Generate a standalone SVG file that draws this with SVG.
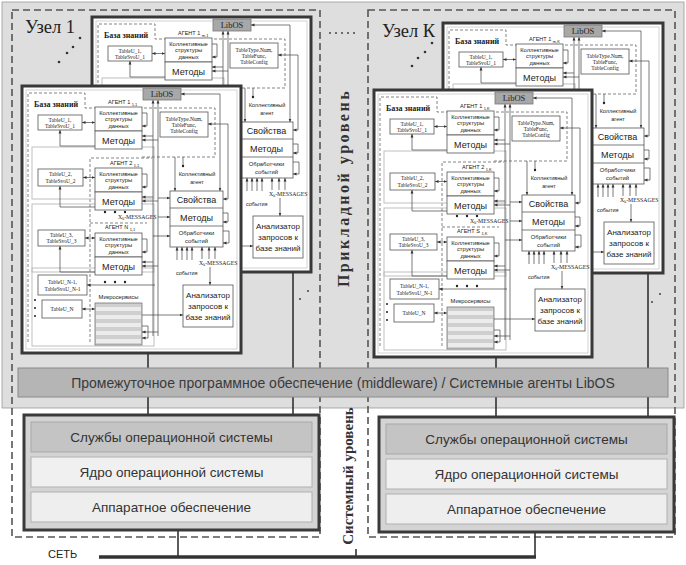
<svg xmlns="http://www.w3.org/2000/svg" width="686" height="565" viewBox="0 0 686 565">
<style>
.bx{fill:#fff;stroke:#555;stroke-width:.8}
.gr{fill:none;stroke:#b8b8b8;stroke-width:.9}
.ds{fill:none;stroke:#666;stroke-width:.8;stroke-dasharray:3 2}
.ln{fill:none;stroke:#444;stroke-width:.7}
.fr{fill:#fff;stroke:#383838;stroke-width:3}
.fi{fill:none;stroke:#c8c8c8;stroke-width:.8}
.nd{fill:none;stroke:#555;stroke-width:1.6;stroke-dasharray:7 4}
.tb{font-family:"Liberation Serif",serif;font-size:5.5px;fill:#222;text-anchor:middle}
.c6{font-family:"Liberation Sans",Arial,sans-serif;font-size:5.8px;fill:#222;text-anchor:middle}
.m9{font-family:"Liberation Sans",Arial,sans-serif;font-size:9px;fill:#222;text-anchor:middle}
.an{font-family:"Liberation Sans",Arial,sans-serif;font-size:8px;fill:#222;text-anchor:middle}
.kb{font-family:"Liberation Serif",serif;font-size:8px;font-weight:bold;fill:#222}
.ag{font-family:"Liberation Sans",Arial,sans-serif;font-size:5.5px;fill:#222}
.ms{font-family:"Liberation Serif",serif;font-size:5.8px;fill:#222}
.ev{font-family:"Liberation Sans",Arial,sans-serif;font-size:5.5px;fill:#222}
.lb{font-family:"Liberation Serif",serif;font-size:8.5px;fill:#222;text-anchor:middle}
.nl{font-family:"Liberation Serif",serif;font-size:18.5px;fill:#222}
.lv{font-family:"Liberation Serif",serif;font-weight:bold;fill:#333;text-anchor:middle}
.os{font-family:"Liberation Sans",Arial,sans-serif;font-size:13.5px;fill:#333;text-anchor:middle}
.mw{font-family:"Liberation Sans",Arial,sans-serif;font-size:14px;fill:#3a3a3a;text-anchor:middle}
.cn{fill:none;stroke:#333;stroke-width:1.6}
</style>
<defs>
<marker id="ar" viewBox="0 0 6 6" refX="6" refY="3" markerWidth="3.5" markerHeight="3.5" markerUnits="userSpaceOnUse" orient="auto-start-reverse"><path d="M0,0.5L6,3L0,5.5z" fill="#333"/></marker>
<g id="pc">
<path class="ds" d="M6,256 V7 H63 V22 H193 V71 H120"/>
<path class="ds" d="M68,256 V72 H130"/>
<path class="ds" d="M68,137 H125"/>
<rect class="gr" x="10" y="61" width="122" height="52"/>
<rect class="gr" x="10" y="118" width="122" height="68"/>
<rect class="gr" x="10" y="182" width="122" height="78"/>
<text class="kb" x="12" y="21">База знаний</text>
<path class="ln" d="M131,14 V250" marker-start="url(#ar)"/>
<path class="ln" d="M136,14 V250" marker-start="url(#ar)"/>
<rect x="121" y="2" width="38" height="12" fill="#a8a8a8" stroke="#777" stroke-width=".8"/>
<text class="lb" x="140" y="11.2">LibOS</text>
<rect class="bx" x="16" y="29" width="44" height="15"/>
<text class="tb" x="38" y="35.5">TableU_1,</text><text class="tb" x="38" y="41.5">TableSvoU_1</text>
<path class="ln" d="M60,36.5 H73" marker-start="url(#ar)" marker-end="url(#ar)"/>
<rect class="bx" x="73" y="21" width="47" height="24"/>
<text class="c6" x="96.5" y="28.5">Коллективные</text><text class="c6" x="96.5" y="35">структуры</text><text class="c6" x="96.5" y="41.5">данных</text>
<rect class="bx" x="73" y="45" width="47" height="18"/>
<text class="m9" x="96.5" y="57.5">Методы</text>
<path class="ln" d="M73,60 H38 V44" marker-end="url(#ar)"/>
<path class="ln" d="M120,27 H125 V40 H120" marker-end="url(#ar)"/>
<path class="ln" d="M131,50 H120" marker-end="url(#ar)"/>
<path class="ln" d="M136,54 H120" marker-end="url(#ar)"/>
<rect class="bx" x="16" y="83" width="45" height="17"/>
<text class="tb" x="38.5" y="90">TableU_2,</text><text class="tb" x="38.5" y="97">TableSvoU_2</text>
<path class="ln" d="M61,91.5 H73" marker-start="url(#ar)" marker-end="url(#ar)"/>
<rect class="bx" x="73" y="82" width="47" height="24"/>
<text class="c6" x="96.5" y="89.5">Коллективные</text><text class="c6" x="96.5" y="96">структуры</text><text class="c6" x="96.5" y="102.5">данных</text>
<rect class="bx" x="73" y="106" width="47" height="18"/>
<text class="m9" x="96.5" y="118.5">Методы</text>
<path class="ln" d="M73,121 H38 V100" marker-end="url(#ar)"/>
<path class="ln" d="M120,88 H125 V101 H120" marker-end="url(#ar)"/>
<path class="ln" d="M131,111 H120" marker-end="url(#ar)"/>
<path class="ln" d="M136,115 H120" marker-end="url(#ar)"/>
<circle cx="83" cy="126" r="1.2" fill="#222"/><circle cx="93" cy="126" r="1.2" fill="#222"/><circle cx="103" cy="126" r="1.2" fill="#222"/>
<text class="ms" x="96" y="133">X<tspan font-size="4px" dy="1">k</tspan><tspan dy="-1">-MESSAGES</tspan></text>
<rect class="bx" x="16" y="144" width="47" height="16"/>
<text class="tb" x="39.5" y="150.5">TableU_3,</text><text class="tb" x="39.5" y="157">TableSvoU_3</text>
<path class="ln" d="M63,152 H73" marker-start="url(#ar)" marker-end="url(#ar)"/>
<rect class="bx" x="73" y="147" width="47" height="24"/>
<text class="c6" x="96.5" y="154.5">Коллективные</text><text class="c6" x="96.5" y="161">структуры</text><text class="c6" x="96.5" y="167.5">данных</text>
<rect class="bx" x="73" y="171" width="47" height="18"/>
<text class="m9" x="96.5" y="183.5">Методы</text>
<path class="ln" d="M73,186 H38 V160" marker-end="url(#ar)"/>
<path class="ln" d="M120,153 H125 V166 H120" marker-end="url(#ar)"/>
<path class="ln" d="M131,176 H120" marker-end="url(#ar)"/>
<path class="ln" d="M136,180 H120" marker-end="url(#ar)"/>
<circle cx="83" cy="196" r="1.2" fill="#222"/><circle cx="93" cy="196" r="1.2" fill="#222"/><circle cx="103" cy="196" r="1.2" fill="#222"/>
<rect class="bx" x="16" y="189" width="49" height="20"/>
<text class="tb" x="40.5" y="197.5">TableU_N-1,</text><text class="tb" x="40.5" y="204.5">TableSvoU_N-1</text>
<path class="ln" d="M65,199 H133" marker-start="url(#ar)"/>
<circle cx="13" cy="214" r="1" fill="#222"/><circle cx="13" cy="222" r="1" fill="#222"/><circle cx="13" cy="230" r="1" fill="#222"/>
<rect class="bx" x="20" y="214" width="40" height="18"/>
<text class="tb" x="40" y="225">TableU_N</text>
<path class="ln" d="M60,223 H73" marker-start="url(#ar)" marker-end="url(#ar)"/>
<text class="c6" x="96.5" y="213">Микросервисы</text>
<rect x="73" y="217" width="47" height="42" fill="#cfcfcf" stroke="#777" stroke-width=".8"/>
<rect x="74" y="221" width="45" height="4" fill="#ececec"/><rect x="74" y="229" width="45" height="4" fill="#ececec"/><rect x="74" y="237" width="45" height="4" fill="#ececec"/><rect x="74" y="245" width="45" height="4" fill="#ececec"/><rect x="74" y="253" width="45" height="4" fill="#ececec"/>
<path class="ln" d="M120,240 H126 V252 H120" marker-end="url(#ar)"/>
<path class="ln" d="M136,246 H120" marker-end="url(#ar)"/>
<path class="ln" d="M120,229 H161" marker-end="url(#ar)"/>
<rect class="bx" x="138" y="26" width="48" height="25"/>
<text class="tb" x="162" y="34.5">TableType.Num,</text><text class="tb" x="162" y="40.5">TableFunc,</text><text class="tb" x="162" y="46.5">TableConfig</text>
<path class="ln" d="M159,8 H198 V105" marker-start="url(#ar)" marker-end="url(#ar)"/>
<path class="ln" d="M186,38 H206 V113 H201" marker-start="url(#ar)" marker-end="url(#ar)"/>
<path class="ln" d="M153,71 V105" marker-end="url(#ar)"/>
<path class="ln" d="M161,80 V71"/><circle cx="161" cy="80" r="1.2" fill="#222"/>
<text class="ev" x="175" y="90" text-anchor="middle">Коллективный</text><text class="ev" x="175" y="98" text-anchor="middle">агент</text>
<rect class="bx" x="148" y="105" width="53" height="56"/>
<path class="ln" d="M148,122 H201 M148,140 H201"/>
<text class="m9" x="174.5" y="117" font-size="8.5px">Свойства</text>
<text class="m9" x="174.5" y="135">Методы</text>
<text class="c6" x="174.5" y="149">Обработчики</text><text class="c6" x="174.5" y="156.5">событий</text>
<path class="ln" d="M136,112 H148" marker-end="url(#ar)"/>
<path class="ln" d="M136,131 H148" marker-end="url(#ar)"/>
<path class="ln" d="M131,150 H148" marker-end="url(#ar)"/>
<path class="ln" d="M201,127 H206 V136 H201" marker-end="url(#ar)"/>
<path class="ln" d="M201,145 H207 V157 H201" marker-end="url(#ar)"/>
<path class="ln" d="M155,174 V161" marker-end="url(#ar)"/><path class="ln" d="M160,174 V161" marker-end="url(#ar)"/><path class="ln" d="M165,174 V161" marker-end="url(#ar)"/><path class="ln" d="M170,174 V161" marker-end="url(#ar)"/><path class="ln" d="M180,173 V161" marker-end="url(#ar)"/><path class="ln" d="M187,173 V161" marker-end="url(#ar)"/><path class="ln" d="M193,173 V161" marker-end="url(#ar)"/>
<text class="ms" x="177" y="179">X<tspan font-size="4px" dy="1">k</tspan><tspan dy="-1">-MESSAGES</tspan></text>
<text class="ev" x="154" y="189">события</text>
<path class="ln" d="M188,181 V199" marker-end="url(#ar)"/>
<rect class="bx" x="161" y="199" width="50" height="42"/>
<text class="an" x="186" y="212">Анализатор</text><text class="an" x="186" y="223">запросов к</text><text class="an" x="186" y="234">базе знаний</text>
</g>
</defs>
<rect x="0" y="0" width="686" height="565" fill="#fff"/>
<rect x="2" y="2" width="682" height="406" fill="#dedede" stroke="#999" stroke-width=".8"/>
<g id="node-1">
<rect class="nd" x="12" y="10" width="308" height="527"/>
<text class="nl" x="25" y="33">Узел 1</text>
<circle cx="80" cy="38" r="1.3" fill="#333"/><circle cx="73" cy="47" r="1.3" fill="#333"/><circle cx="67" cy="53" r="1.3" fill="#333"/><circle cx="59" cy="62" r="1.3" fill="#333"/>
<circle cx="300" cy="299" r="1" fill="#444"/><circle cx="308" cy="291" r="1" fill="#444"/>
<g id="node-1-agent-m" transform="translate(92,17)">
<rect class="fr" x="0" y="0" width="219" height="255"/>
<rect class="fi" x="4" y="4" width="211" height="247"/>
<use href="#pc"/>
<text class="ag" x="86" y="18">АГЕНТ 1 <tspan font-size="4px" dy="1.5">m,1</tspan></text>
</g>
<g id="node-1-agent-1" transform="translate(22,86)">
<rect class="fr" x="0" y="0" width="219" height="267"/>
<rect class="fi" x="4" y="4" width="211" height="259"/>
<use href="#pc"/>
<text class="ag" x="86" y="18">АГЕНТ 1 <tspan font-size="4px" dy="1.5">1,1</tspan></text>
<text class="ag" x="88" y="79">АГЕНТ 2 <tspan font-size="4px" dy="1.5">1,1</tspan></text>
<text class="ag" x="83" y="143">АГЕНТ N <tspan font-size="4px" dy="1.5">1,1</tspan></text>
</g>
</g>
<g id="node-k">
<rect class="nd" x="368" y="10" width="307" height="527"/>
<text class="nl" x="382" y="37">Узел К</text>
<circle cx="432" cy="43" r="1.3" fill="#333"/><circle cx="425" cy="52" r="1.3" fill="#333"/><circle cx="418" cy="58" r="1.3" fill="#333"/><circle cx="412" cy="66" r="1.3" fill="#333"/>
<circle cx="652" cy="302" r="1" fill="#444"/><circle cx="660" cy="294" r="1" fill="#444"/>
<g id="node-k-agent-m" transform="translate(443,23)">
<rect class="fr" x="0" y="0" width="220" height="250"/>
<rect class="fi" x="4" y="4" width="212" height="242"/>
<use href="#pc"/>
<text class="ag" x="86" y="18">АГЕНТ 1 <tspan font-size="4px" dy="1.5">m,K</tspan></text>
</g>
<g id="node-k-agent-1" transform="translate(374,90)">
<rect class="fr" x="0" y="0" width="218" height="267"/>
<rect class="fi" x="4" y="4" width="210" height="259"/>
<use href="#pc"/>
<text class="ag" x="86" y="18">АГЕНТ 1 <tspan font-size="4px" dy="1.5">1,K</tspan></text>
<text class="ag" x="88" y="79">АГЕНТ 2 <tspan font-size="4px" dy="1.5">1,K</tspan></text>
<text class="ag" x="83" y="143">АГЕНТ S <tspan font-size="4px" dy="1.5">1,K</tspan></text>
</g>
</g>
<g id="between-dots" fill="#444">
<circle cx="330" cy="33" r="1"/><circle cx="336" cy="33" r="1"/><circle cx="342" cy="33" r="1"/><circle cx="348" cy="33" r="1"/><circle cx="354" cy="33" r="1"/>
</g>
<text class="lv" font-size="16px" letter-spacing="2.5" transform="translate(349,188) rotate(-90)">Прикладной уровень</text>
<g id="connectors">
<path class="cn" d="M148,353 V368 M293,272 V368 M496,357 V368 M648,273 V368"/>
<path class="cn" d="M148,397 V415 M293,397 V415 M496,397 V417 M648,397 V417"/>
<path class="cn" d="M178,530 V557 M535,532 V557 M356,549 V557"/>
<path fill="none" stroke="#333" stroke-width="3.5" d="M99,557 H536"/>
</g>
<g id="middleware">
<rect x="18" y="368" width="650" height="29" fill="#b5b5b5" stroke="#8a8a8a" stroke-width="1"/>
<text class="mw" x="343" y="387.5">Промежуточное программное обеспечение (middleware)  / Системные агенты LibOS</text>
</g>
<g id="os-1">
<rect x="24" y="415" width="295" height="115" fill="#d4d4d4" stroke="#3a3a3a" stroke-width="3"/>
<rect x="31" y="422" width="281" height="30" fill="#c4c4c4" stroke="#a8a8a8"/>
<rect x="31" y="457" width="281" height="30" fill="#f0f0f0" stroke="#b0b0b0"/>
<rect x="31" y="492" width="281" height="30" fill="#eeeeee" stroke="#b0b0b0"/>
<text class="os" x="171.5" y="442">Службы операционной системы</text>
<text class="os" x="171.5" y="477">Ядро операционной системы</text>
<text class="os" x="171.5" y="512">Аппаратное обеспечение</text>
</g>
<g id="os-k">
<rect x="379" y="417" width="295" height="115" fill="#d4d4d4" stroke="#3a3a3a" stroke-width="3"/>
<rect x="386" y="424" width="281" height="30" fill="#c4c4c4" stroke="#a8a8a8"/>
<rect x="386" y="459" width="281" height="30" fill="#f0f0f0" stroke="#b0b0b0"/>
<rect x="386" y="494" width="281" height="30" fill="#eeeeee" stroke="#b0b0b0"/>
<text class="os" x="526.5" y="444">Службы операционной системы</text>
<text class="os" x="526.5" y="479">Ядро операционной системы</text>
<text class="os" x="526.5" y="514">Аппаратное обеспечение</text>
</g>
<text class="lv" font-size="15px" transform="translate(353,476) rotate(-90)">Системный уровень</text>
<text x="48" y="558" font-family="Liberation Sans, Arial, sans-serif" font-size="11px" fill="#222">СЕТЬ</text>
</svg>
